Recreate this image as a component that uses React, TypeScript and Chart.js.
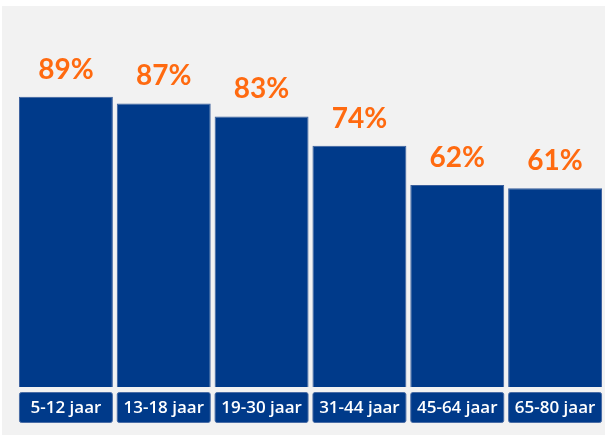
import React, { useEffect, useRef } from "react";
import { Chart, registerables } from "chart.js";

Chart.register(...registerables);

const categories = ["5-12 jaar", "13-18 jaar", "19-30 jaar", "31-44 jaar", "45-64 jaar", "65-80 jaar"];
const values = [89, 87, 83, 74, 62, 61];

const BLUE = "#003a8a";
const ORANGE = "#ff6a10";
const BG = "#f2f2f2";

const bgPlugin = {
  id: "bgPanel",
  beforeDraw(chart: any) {
    const ctx = chart.ctx;
    ctx.save();
    ctx.fillStyle = "#ffffff";
    ctx.fillRect(0, 0, chart.width, chart.height);
    ctx.fillStyle = BG;
    ctx.fillRect(2, 6, chart.width - 2, chart.height - 6);
    ctx.restore();
  },
};

const labelPlugin = {
  id: "labels",
  afterDatasetsDraw(chart: any) {
    const ctx = chart.ctx;
    const meta = chart.getDatasetMeta(0);
    const area = chart.chartArea;
    ctx.save();
    meta.data.forEach((el: any, i: number) => {
      const w = el.width;
      const left = el.x - w / 2;
      // value label
      ctx.fillStyle = ORANGE;
      ctx.font = "bold 28px Lato, 'Open Sans', sans-serif";
      ctx.textAlign = "center";
      ctx.textBaseline = "alphabetic";
      ctx.fillText(values[i] + "%", el.x, el.y - 18);
      // category box
      const top = area.bottom + 5;
      const h = 30;
      ctx.beginPath();
      (ctx as any).roundRect(left + 0.5, top + 0.5, w - 1, h, 2);
      ctx.fillStyle = BLUE;
      ctx.fill();
      ctx.strokeStyle = "#4a6da6";
      ctx.lineWidth = 1;
      ctx.stroke();
      ctx.fillStyle = "#ffffff";
      ctx.font = "600 17px 'Open Sans', Lato, sans-serif";
      ctx.textBaseline = "middle";
      ctx.fillText(categories[i], el.x, top + h / 2 + 1);
    });
    ctx.restore();
  },
};

export default function App() {
  const ref = useRef<HTMLCanvasElement | null>(null);
  useEffect(() => {
    document.body.style.margin = "0";
    if (!ref.current) return;
    const chart = new Chart(ref.current, {
      type: "bar",
      data: {
        labels: categories,
        datasets: [
          {
            data: values,
            backgroundColor: BLUE,
            borderColor: "#3a5f9c",
            borderWidth: 1,
            barPercentage: 0.96,
            categoryPercentage: 1,
          },
        ],
      },
      options: {
        responsive: false,
        animation: false,
        devicePixelRatio: 1,
        layout: { padding: { left: 17, right: 1, top: 61, bottom: 48 } },
        plugins: { legend: { display: false }, tooltip: { enabled: false }, title: { display: false } },
        scales: {
          x: { display: false, grid: { display: false } },
          y: { display: false, min: 0, max: 100, grid: { display: false } },
        },
      },
      plugins: [bgPlugin, labelPlugin],
    });
    return () => chart.destroy();
  }, []);
  return (
    <div style={{ width: 605, height: 435 }}>
      <canvas ref={ref} width={605} height={435} style={{ display: "block" }} />
    </div>
  );
}
